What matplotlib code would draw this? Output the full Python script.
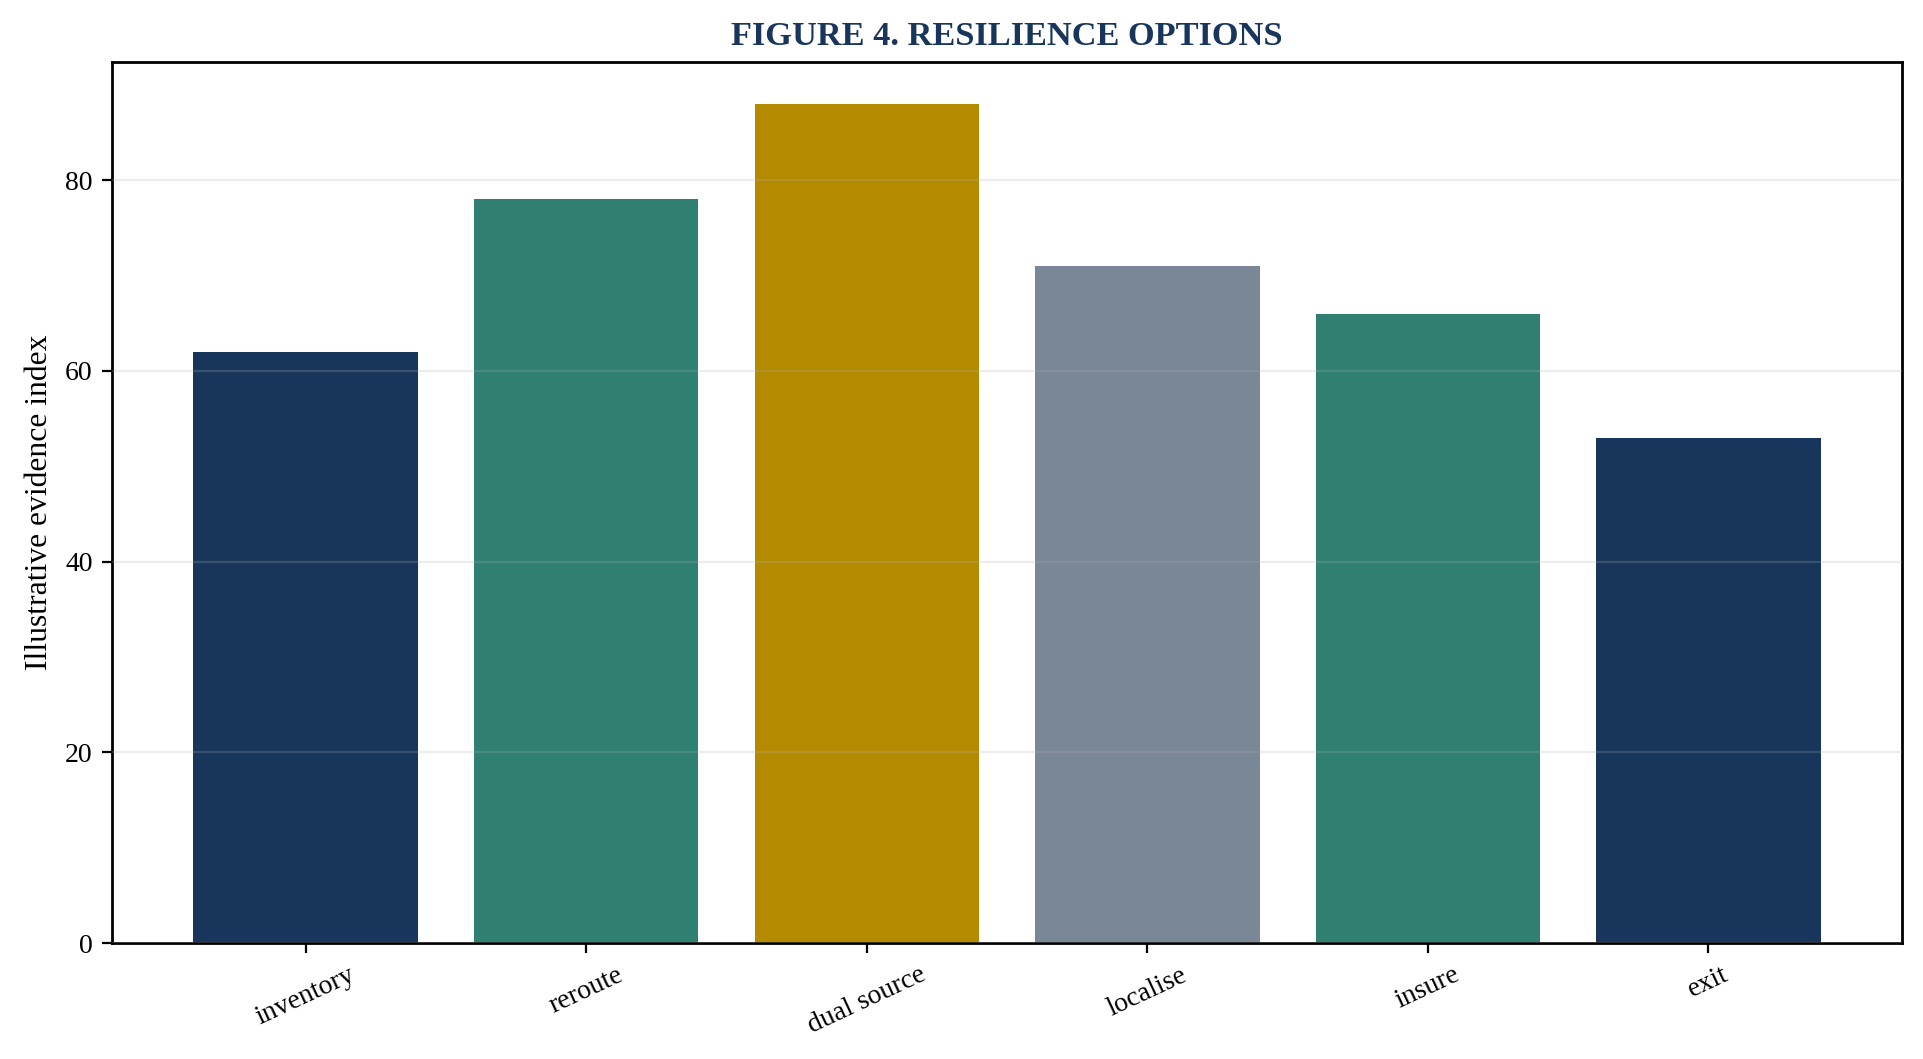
import matplotlib
matplotlib.use("Agg")
import matplotlib.pyplot as plt

categories = ["inventory", "reroute", "dual source", "localise", "insure", "exit"]
values = [62, 78, 88, 71, 66, 53]
colors = ["#18365c", "#2f8071", "#b48a00", "#7a8796", "#2f8071", "#18365c"]
title = "FIGURE 4. RESILIENCE OPTIONS"
ylabel = "Illustrative evidence index"

plt.rcParams["font.family"] = ["Liberation Serif", "DejaVu Serif"]

fig = plt.figure(figsize=(9.62, 5.295), dpi=200)
ax = fig.add_axes([0.0582, 0.1095, 0.9304, 0.832])

ax.bar(categories, values, width=0.8, color=colors)
ax.set_title(title, fontsize=12.4, fontweight="bold", color="#18365c", pad=6)
ax.set_ylabel(ylabel, fontsize=11.4)
ax.tick_params(axis="both", labelsize=10)
plt.setp(ax.get_xticklabels(), rotation=25, ha="center")
ax.set_axisbelow(False)
ax.yaxis.grid(True, color="#b0b0b0", alpha=0.22, linewidth=0.8)
ax.xaxis.grid(False)
ax.set_yticks([0, 20, 40, 60, 80])
for s in ax.spines.values():
    s.set_linewidth(1.0)

fig.savefig("out.png", dpi=200)
